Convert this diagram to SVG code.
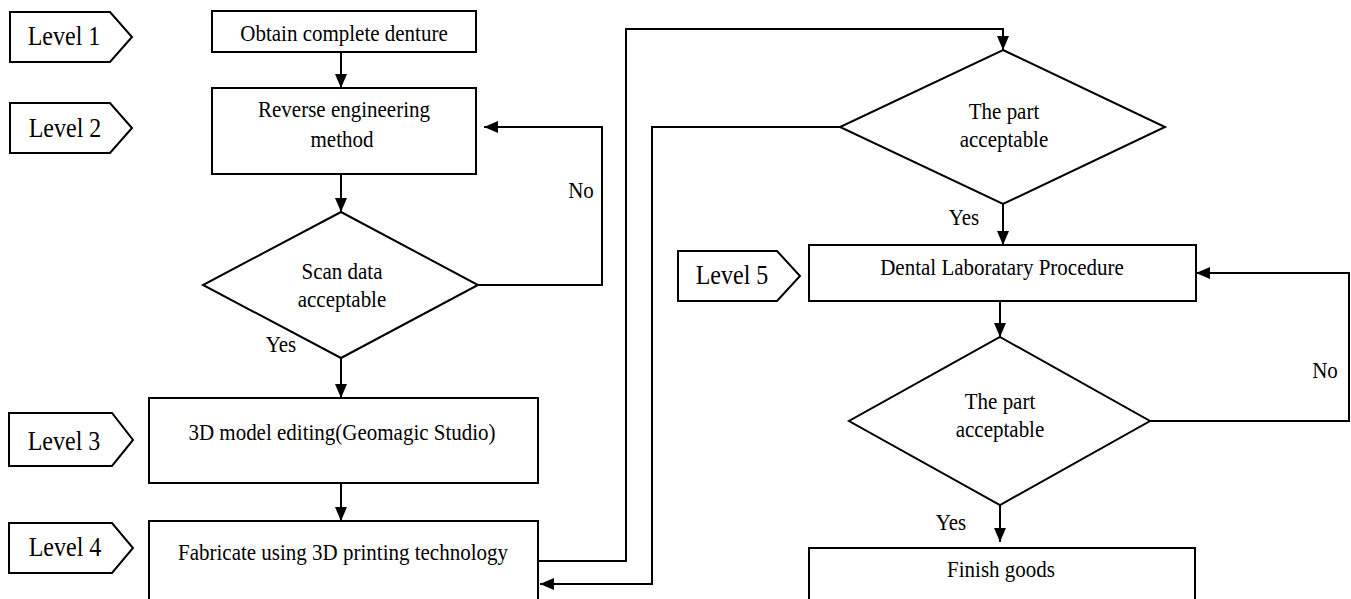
<svg xmlns="http://www.w3.org/2000/svg" width="1351" height="599" viewBox="0 0 1351 599">
<style>
.s{fill:#fff;stroke:#000;stroke-width:2}
.c{fill:none;stroke:#000;stroke-width:2}
text{font-family:'Liberation Serif','Times New Roman',Times,serif;fill:#000;text-anchor:middle}
.t{font-size:21px}
.lv{font-size:24px}
.yn{font-size:21px}
</style>
<defs>
<marker id="ah" viewBox="0 0 14 12" refX="14" refY="6" markerWidth="14" markerHeight="12" markerUnits="userSpaceOnUse" orient="auto">
<path d="M0,0 L14,6 L0,12 Z" fill="#000"/>
</marker>
</defs>
<rect width="1351" height="599" fill="#fff"/>
<g id="level1"><polygon class="s" points="10,12 110,12 132,37 110,62 10,62"/><text class="lv" transform="translate(64,45) scale(1,1.15)">Level 1</text></g>
<g id="level2"><polygon class="s" points="10,103 110,103 132,128 110,153 10,153"/><text class="lv" transform="translate(65,137) scale(1,1.15)">Level 2</text></g>
<g id="level3"><polygon class="s" points="9,413 112,413 133,440 112,466 9,466"/><text class="lv" transform="translate(64,450) scale(1,1.15)">Level 3</text></g>
<g id="level4"><polygon class="s" points="9,523 112,523 133,548 112,573 9,573"/><text class="lv" transform="translate(65,556) scale(1,1.15)">Level 4</text></g>
<g id="level5"><polygon class="s" points="678,251 777,251 800,276 777,301 678,301"/><text class="lv" transform="translate(732,284) scale(1,1.15)">Level 5</text></g>
<g id="obtain"><rect class="s" x="212" y="11" width="264" height="41"/><text class="t" transform="translate(344,41) scale(1,1.12)">Obtain complete denture</text></g>
<g id="reverse"><rect class="s" x="212" y="88" width="264" height="86"/><text class="t" transform="translate(344,117) scale(1,1.12)">Reverse engineering</text><text class="t" transform="translate(342,147) scale(1,1.12)">method</text></g>
<g id="scan"><polygon class="s" points="341,212 478,285 341,358 203,285"/><text class="t" transform="translate(342,279) scale(1,1.12)">Scan data</text><text class="t" transform="translate(342,307) scale(1,1.12)">acceptable</text></g>
<g id="model"><rect class="s" x="149" y="398" width="389" height="85"/><text class="t" transform="translate(342,440) scale(1,1.12)">3D model editing(Geomagic Studio)</text></g>
<g id="fabricate"><rect class="s" x="149" y="521" width="389" height="95"/><text class="t" transform="translate(343,560) scale(1,1.12)">Fabricate using 3D printing technology</text></g>
<g id="part1"><polygon class="s" points="1003,50 1165,127 1003,204 840,127"/><text class="t" transform="translate(1004,119) scale(1,1.12)">The part</text><text class="t" transform="translate(1004,147) scale(1,1.12)">acceptable</text></g>
<g id="dental"><rect class="s" x="809" y="245" width="387" height="56"/><text class="t" transform="translate(1002,275) scale(1,1.12)">Dental Laboratary Procedure</text></g>
<g id="part2"><polygon class="s" points="1000,337 1150,421 1000,505 849,421"/><text class="t" transform="translate(1000,409) scale(1,1.12)">The part</text><text class="t" transform="translate(1000,437) scale(1,1.12)">acceptable</text></g>
<g id="finish"><rect class="s" x="809" y="548" width="386" height="70"/><text class="t" transform="translate(1001,577) scale(1,1.12)">Finish goods</text></g>
<g id="connectors">
<path class="c" d="M341,52 V88" marker-end="url(#ah)"/>
<path class="c" d="M341,174 V212" marker-end="url(#ah)"/>
<path class="c" d="M478,285 H602 V127 H484" marker-end="url(#ah)"/>
<path class="c" d="M341,358 V398" marker-end="url(#ah)"/>
<path class="c" d="M341,483 V521" marker-end="url(#ah)"/>
<path class="c" d="M538,561 H626 V29 H1003 V50" marker-end="url(#ah)"/>
<path class="c" d="M840,127 H652 V584 H540" marker-end="url(#ah)"/>
<path class="c" d="M1003,204 V245" marker-end="url(#ah)"/>
<path class="c" d="M1000,301 V337" marker-end="url(#ah)"/>
<path class="c" d="M1150,421 H1349 V273 H1196" marker-end="url(#ah)"/>
<path class="c" d="M1000,505 V542" marker-end="url(#ah)"/>
<text class="yn" transform="translate(581,198) scale(1,1.12)">No</text>
<text class="yn" transform="translate(281,352) scale(1,1.12)">Yes</text>
<text class="yn" transform="translate(964,225) scale(1,1.12)">Yes</text>
<text class="yn" transform="translate(1325,378) scale(1,1.12)">No</text>
<text class="yn" transform="translate(951,530) scale(1,1.12)">Yes</text>
</g>
</svg>
